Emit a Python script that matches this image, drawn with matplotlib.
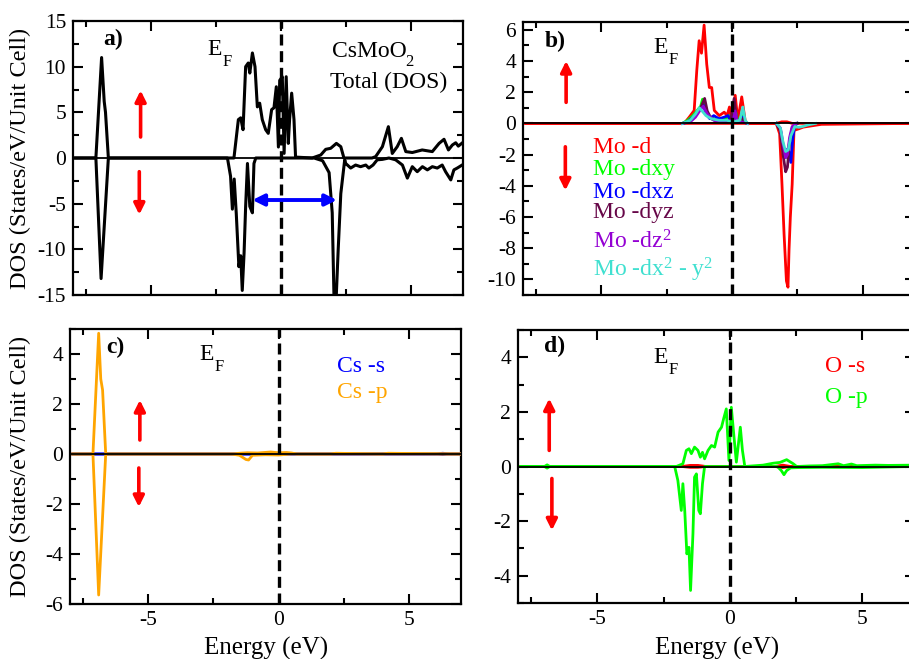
import matplotlib
matplotlib.use("Agg")
import matplotlib.pyplot as plt
from matplotlib.ticker import MultipleLocator

plt.rcParams['font.family'] = ['Liberation Serif', 'DejaVu Serif']
plt.rcParams['mathtext.fontset'] = 'custom'
plt.rcParams['mathtext.rm'] = 'Liberation Serif'
plt.rcParams['mathtext.it'] = 'Liberation Serif:italic'
plt.rcParams['mathtext.bf'] = 'Liberation Serif:bold'
plt.rcParams['axes.unicode_minus'] = False

# ---------------- data ----------------
# Panel a: total DOS
tot_up_E = [-7.9, -7.12, -6.9, -6.8, -6.75, -6.64, -1.81, -1.64, -1.55, -1.46, -1.36, -1.26, -1.2, -1.10,
            -1.0, -0.91, -0.82, -0.72, -0.59, -0.49, -0.36, -0.27, -0.18, -0.10, -0.05, 0.05, 0.12, 0.2,
            0.28, 0.33, 0.41, 0.5, 0.56, 1.2, 1.53, 1.72, 1.91, 2.13, 2.3, 2.42, 3.5, 3.64, 3.9, 4.13,
            4.28, 4.47, 4.63, 4.8, 5.05, 5.43, 5.82, 6.08, 6.27, 6.44, 6.59, 6.72, 6.82, 6.95]
tot_up = [0, 0, 11.0, 6.2, 5.0, 0, 0, 4.2, 4.4, 3.1, 10.0, 10.4, 9.3, 11.5,
          10.0, 5.6, 6.0, 4.2, 3.1, 2.7, 5.3, 5.5, 7.8, 1.2, 8.5, 8.9, 0.5, 8.9,
          1.6, 4.2, 7.1, 4.2, 0.1, 0, 0.33, 0.95, 1.06, 1.6, 1.24, 0, 0, 0.15, 1.24, 3.43,
          0.5, 1.24, 2.15, 0.7, 0.6, 0.88, 0.7, 1.6, 2.05, 0.88, 1.42, 1.67, 1.3, 1.6]
tot_dn_E = [-7.9, -7.12, -6.92, -6.64, -2.06, -1.94, -1.87, -1.8, -1.72, -1.62, -1.55, -1.49, -1.42,
            -1.36, -1.29, -1.2, -1.1, -1.04, -0.97, 1.27, 1.6, 1.85, 1.97, 2.04, 2.12, 2.2, 2.3, 2.45,
            2.49, 2.68, 2.87, 3.06, 3.26, 3.38, 3.54, 3.7, 3.9, 4.15, 4.41, 4.67, 4.86, 5.05, 5.24,
            5.44, 5.63, 5.82, 6.01, 6.2, 6.33, 6.53, 6.65, 6.78, 6.95]
tot_dn = [0, 0, -13.2, 0, 0, -2.0, -5.6, -2.3, -6.1, -11.9, -10.7, -14.5, -10.4,
          -5.3, -0.6, -5.3, -6.0, -0.6, 0, 0, -0.3, -1.6, -6.0, -15.5, -15.5, -10, -3.9, -0.2,
          -0.6, -1.1, -0.77, -0.95, -0.77, -1.1, -0.77, -0.2, -0.15, 0, -0.2, -0.77, -2.2, -0.95, -1.5,
          -0.95, -1.3, -0.95, -1.1, -0.77, -1.5, -2.4, -1.3, -1.1, -0.8]

# Panel b: Mo d orbitals
mo_d_up_E = [-7.9, -1.83, -1.64, -1.45, -1.35, -1.26, -1.17, -1.07, -0.97, -0.87, -0.78, -0.68, -0.49,
             -0.3, -0.19, -0.1, -0.04, 0.12, 0.22, 0.37, 0.5, 0.56, 1.7, 1.9, 2.1, 2.3, 6.95]
mo_d_up = [0, 0, 0.4, 0.83, 3.4, 5.3, 4.5, 6.3, 3.8, 2.3, 2.3, 0.83, 0.5,
           0.72, 0.5, 1.05, 0.2, 1.8, 0.2, 1.7, 0.2, 0, 0, 0.1, 0.1, 0, 0]
mo_d_dn_E = [-7.9, 1.69, 1.82, 1.91, 1.99, 2.08, 2.14, 2.18, 2.23, 2.3, 2.37, 2.55, 2.72, 3.42, 6.95]
mo_d_dn = [0, 0, -0.66, -3.9, -7.1, -10.1, -10.5, -8.1, -6.0, -3.9, -0.45, -0.35, -0.24, -0.06, 0]

mo_dxy_up_E = [-1.9, -1.7, -1.5, -1.35, -1.2, -1.13, -1.0, -0.9, -0.7, -0.5, -0.3, -0.1, 0.0, 0.12, 0.22, 0.4, 0.5, 0.6]
mo_dxy_up = [0, 0.2, 0.5, 0.8, 1.1, 1.55, 0.9, 0.5, 0.3, 0.2, 0.25, 0.5, 0.1, 0.9, 0.1, 0.6, 0.05, 0]
mo_dxy_dn_E = [1.7, 1.85, 1.95, 2.05, 2.12, 2.2, 2.3, 2.4, 2.5]
mo_dxy_dn = [0, -0.4, -1.5, -2.2, -2.0, -1.2, -0.3, -0.1, 0]

mo_dxz_up_E = [-1.9, -1.7, -1.5, -1.35, -1.2, -1.1, -1.0, -0.85, -0.7, -0.5, -0.3, -0.15, -0.05, 0.1, 0.2, 0.4, 0.5, 0.6]
mo_dxz_up = [0, 0.1, 0.4, 0.6, 1.0, 1.2, 0.6, 0.3, 0.5, 0.3, 0.4, 0.5, 0.1, 0.6, 0.1, 0.4, 0.05, 0]
mo_dxz_dn_E = [1.7, 1.85, 1.95, 2.05, 2.15, 2.25, 2.32, 2.4, 2.5]
mo_dxz_dn = [0, -0.4, -1.5, -1.8, -1.6, -2.5, -1.0, -0.1, 0]

mo_dyz_up_E = [-1.9, -1.7, -1.5, -1.35, -1.2, -1.05, -0.95, -0.8, -0.6, -0.4, -0.2, -0.05, 0.08, 0.18, 0.4, 0.5, 0.6]
mo_dyz_up = [0, 0.1, 0.3, 0.7, 1.0, 1.6, 0.8, 0.3, 0.15, 0.1, 0.1, 0.2, 1.6, 0.1, 0.3, 0.05, 0]
mo_dyz_dn_E = [1.7, 1.85, 1.95, 2.05, 2.12, 2.2, 2.3, 2.4, 2.5]
mo_dyz_dn = [0, -0.5, -2.0, -3.1, -2.8, -1.2, -0.3, -0.1, 0]

mo_dz2_up_E = [-1.9, -1.6, -1.4, -1.2, -1.1, -0.95, -0.7, -0.4, -0.1, 0.05, 0.12, 0.2, 0.5, 0.6]
mo_dz2_up = [0, 0.1, 0.4, 0.9, 1.1, 0.6, 0.2, 0.1, 0.15, 0.2, 0.8, 0.1, 0.05, 0]
mo_dz2_dn_E = [1.7, 1.85, 1.95, 2.05, 2.12, 2.2, 2.3, 2.45]
mo_dz2_dn = [0, -0.3, -1.3, -2.2, -2.0, -0.9, -0.2, 0]

mo_dx2y2_up_E = [-1.9, -1.6, -1.4, -1.25, -1.15, -1.0, -0.8, -0.5, -0.2, 0.0, 0.3, 0.41, 0.5, 0.6]
mo_dx2y2_up = [0, 0.2, 0.6, 1.0, 0.8, 0.5, 0.3, 0.2, 0.2, 0.1, 0.2, 1.05, 0.2, 0]
mo_dx2y2_dn_E = [1.7, 1.85, 1.95, 2.05, 2.15, 2.25, 2.4, 2.55, 2.7, 2.9, 3.2]
mo_dx2y2_dn = [0, -0.3, -1.2, -1.8, -1.7, -0.8, -0.2, -0.25, -0.2, -0.1, 0]

# Panel c: Cs
cs_s_up_E = [-7.9, 6.0, 6.3, 6.6, 6.95]
cs_s_up = [0, 0, 0.03, 0, 0]
cs_s_dn_E = [-7.9, 6.0, 6.3, 6.6, 6.95]
cs_s_dn = [0, 0, -0.02, 0, 0]
cs_p_up_E = [-7.9, -7.12, -6.9, -6.82, -6.75, -6.63, -1.8, -1.5, -1.2, -0.8, -0.3, 0.0, 0.3, 0.5, 0.7,
             2.0, 2.2, 4.0, 4.2, 6.95]
cs_p_up = [0, 0, 4.83, 3.0, 2.56, 0, 0, 0.03, 0.05, 0.04, 0.08, 0.05, 0.06, 0.04, 0,
           0, 0.03, 0, 0.03, 0]
cs_p_dn_E = [-7.9, -7.12, -6.9, -6.63, -1.8, -1.5, -1.25, -1.15, -1.0, -0.5, 0.0, 0.5, 6.95]
cs_p_dn = [0, 0, -5.64, 0, 0, -0.05, -0.22, -0.24, -0.05, -0.03, -0.04, 0, 0]

# Panel d: O
o_s_up_E = [-7.9, -1.8, -1.5, -1.2, -0.9, 1.7, 2.0, 2.3, 6.95]
o_s_up = [0, 0, 0.04, 0.04, 0, 0, 0.05, 0, 0]
o_s_dn_E = [-7.9, -1.8, -1.5, -1.2, -0.9, 1.7, 2.0, 2.3, 6.95]
o_s_dn = [0, 0, -0.03, -0.03, 0, 0, -0.04, 0, 0]
o_p_up_E = [-7.9, -7.0, -6.9, -6.8, -2.02, -1.77, -1.64, -1.54, -1.45, -1.33, -1.2, -1.11, -1.03, -0.95,
            -0.82, -0.69, -0.57, -0.44, -0.31, -0.23, -0.13, -0.03, 0.06, 0.15, 0.25, 0.4, 0.48, 0.57,
            1.26, 1.64, 1.9, 2.15, 2.4, 2.53, 3.0, 3.5, 4.1, 4.3, 4.6, 4.8, 5.5, 6.0, 6.95]
o_p_up = [0, 0, 0.06, 0, 0, 0.1, 0.59, 0.65, 0.47, 0.71, 0.59, 0.34, 0.52, 0.28,
          0.59, 0.77, 0.71, 1.26, 1.44, 1.75, 2.11, 0.22, 2.17, 1.2, 0.16, 1.44, 0.59, 0,
          0.05, 0.12, 0.15, 0.25, 0.1, 0.0, 0.02, 0.03, 0.1, 0.03, 0.09, 0.03, 0.05, 0.04, 0.05]
o_p_dn_E = [-7.9, -7.0, -6.9, -6.8, -2.08, -1.96, -1.83, -1.77, -1.7, -1.62, -1.54, -1.48, -1.39, -1.33,
            -1.26, -1.17, -1.11, -1.03, -0.95, 1.8, 1.95, 2.05, 2.15, 2.3, 2.6, 3.5, 5.0, 6.95]
o_p_dn = [0, 0, -0.06, 0, 0, -0.51, -1.61, -0.63, -1.61, -3.2, -2.96, -4.54, -2.47, -0.39,
          -0.27, -1.61, -1.73, -0.63, 0, 0, -0.15, -0.3, -0.15, -0.05, -0.04, -0.03, -0.04, 0]

# colours (xmgrace palette)
RED, GREEN, BLUE = '#ff0000', '#00ff00', '#0000ff'
MAROON, VIOLET, TURQ, ORANGE = '#670748', '#9400d3', '#40e0d0', '#ffa500'

W, H = 909, 659
fig = plt.figure(figsize=(W / 100, H / 100), dpi=100)


def ax_px(x0, x1, y0, y1):
    return fig.add_axes([x0 / W, 1 - y1 / H, (x1 - x0) / W, (y1 - y0) / H])


axa = ax_px(73, 463, 21, 295)
axb = ax_px(523, 915, 22, 295)
axc = ax_px(70, 461, 329, 604)
axd = ax_px(518, 915, 330, 603)

for ax in (axa, axb, axc, axd):
    ax.set_xlim(-8, 7)
    ax.xaxis.set_major_locator(MultipleLocator(5))
    ax.xaxis.set_minor_locator(MultipleLocator(2.5))
    ax.tick_params(which='both', direction='in', top=True, right=True, width=1.5, labelsize=15.5, pad=5)
    ax.tick_params(which='major', length=7.5)
    ax.tick_params(which='minor', length=4.5)
    for s in ax.spines.values():
        s.set_linewidth(1.6)
    ax.axvline(0, color='black', lw=2.4, ls=(0, (3.3, 1.7)), zorder=5)

axa.tick_params(labelbottom=False)
axb.tick_params(labelbottom=False)

axa.set_ylim(-15, 15)
axa.yaxis.set_major_locator(MultipleLocator(5))
axa.yaxis.set_minor_locator(MultipleLocator(2.5))
axb.set_ylim(-11, 6.5)
axb.yaxis.set_major_locator(MultipleLocator(2))
axb.yaxis.set_minor_locator(MultipleLocator(1))
axc.set_ylim(-6, 5)
axc.yaxis.set_major_locator(MultipleLocator(2))
axc.yaxis.set_minor_locator(MultipleLocator(1))
axd.set_ylim(-5, 5)
axd.yaxis.set_major_locator(MultipleLocator(2))
axd.yaxis.set_minor_locator(MultipleLocator(1))

# panel a
axa.plot(tot_up_E, tot_up, color='black', lw=2.2, zorder=3)
axa.plot(tot_dn_E, tot_dn, color='black', lw=2.2, zorder=3)

# panel b
b_series = [
    (mo_d_up_E, mo_d_up, mo_d_dn_E, mo_d_dn, RED),
    (mo_dxy_up_E, mo_dxy_up, mo_dxy_dn_E, mo_dxy_dn, GREEN),
    (mo_dxz_up_E, mo_dxz_up, mo_dxz_dn_E, mo_dxz_dn, BLUE),
    (mo_dyz_up_E, mo_dyz_up, mo_dyz_dn_E, mo_dyz_dn, MAROON),
    (mo_dz2_up_E, mo_dz2_up, mo_dz2_dn_E, mo_dz2_dn, VIOLET),
    (mo_dx2y2_up_E, mo_dx2y2_up, mo_dx2y2_dn_E, mo_dx2y2_dn, TURQ),
]
for ue, u, de, d, c in b_series:
    axb.plot(ue, u, color=c, lw=2.0, zorder=3)
    axb.plot(de, d, color=c, lw=2.0, zorder=3)

# panel c
axc.plot(cs_s_up_E, cs_s_up, color=BLUE, lw=2.0, zorder=3)
axc.plot(cs_s_dn_E, cs_s_dn, color=BLUE, lw=2.0, zorder=3)
axc.plot(cs_p_up_E, cs_p_up, color=ORANGE, lw=2.0, zorder=3)
axc.plot(cs_p_dn_E, cs_p_dn, color=ORANGE, lw=2.0, zorder=3)

# panel d
axd.plot(o_s_up_E, o_s_up, color=RED, lw=2.0, zorder=3)
axd.plot(o_s_dn_E, o_s_dn, color=RED, lw=2.0, zorder=3)
axd.plot(o_p_up_E, o_p_up, color=GREEN, lw=2.0, zorder=3)
axd.plot(o_p_dn_E, o_p_dn, color=GREEN, lw=2.0, zorder=3)
for ax in (axa, axb, axc, axd):
    ax.axhline(0, color='black', lw=1.3, zorder=4)

# arrows
def spin_arrow(ax, x, y0, y1, color='red'):
    ax.annotate('', xy=(x, y1), xytext=(x, y0),
                arrowprops=dict(arrowstyle='-|>', color=color, lw=2.6, mutation_scale=16,
                                shrinkA=0, shrinkB=0), zorder=6)

spin_arrow(axa, -5.4, 2.3, 7.4)
spin_arrow(axa, -5.45, -1.5, -6.2)
spin_arrow(axb, -6.35, 1.35, 4.0)
spin_arrow(axb, -6.38, -1.5, -4.3)
spin_arrow(axc, -5.32, 0.56, 2.16)
spin_arrow(axc, -5.36, -0.56, -2.12)
spin_arrow(axd, -6.82, 0.59, 2.49)
spin_arrow(axd, -6.72, -0.44, -2.34)
axa.annotate('', xy=(2.15, -4.6), xytext=(-1.1, -4.6),
             arrowprops=dict(arrowstyle='<|-|>', color=BLUE, lw=2.8, mutation_scale=17,
                             shrinkA=0, shrinkB=0), zorder=6)

# texts
def t(ax, x, y, s, **kw):
    kw.setdefault('fontsize', 16.5)
    ax.text(x, y, s, transform=ax.transAxes, ha='left', va='baseline', **kw)


def ef(ax, x, y):
    # E with a deeply lowered subscript F, as in the original
    t(ax, x, y, 'E', fontsize=17)
    t(ax, x + 0.039, y - 0.04, 'F', fontsize=12)

t(axa, 0.077, 0.912, 'a)', fontweight='bold', fontsize=17)
ef(axa, 0.344, 0.876)
t(axa, 0.664, 0.869, 'CsMoO', fontsize=17)
t(axa, 0.852, 0.835, '2', fontsize=12)
t(axa, 0.659, 0.755, 'Total (DOS)', fontsize=17)

t(axb, 0.056, 0.908, 'b)', fontweight='bold', fontsize=17)
ef(axb, 0.332, 0.886)
b_labels = ['Mo -d', 'Mo -dxy', 'Mo -dxz', 'Mo -dyz', r'Mo -dz$^2$', r'Mo -dx$^2$ - y$^2$']
b_label_y = [0.520, 0.440, 0.355, 0.282, 0.172, 0.066]
for lab, yy, (_, _, _, _, c) in zip(b_labels, b_label_y, b_series):
    t(axb, 0.179, yy, lab, color=c, fontsize=17)

t(axc, 0.092, 0.913, 'c)', fontweight='bold', fontsize=17)
ef(axc, 0.33, 0.887)
t(axc, 0.683, 0.844, 'Cs -s', color=BLUE, fontsize=17)
t(axc, 0.683, 0.749, 'Cs -p', color=ORANGE, fontsize=17)

t(axd, 0.065, 0.919, 'd)', fontweight='bold', fontsize=17)
ef(axd, 0.34, 0.879)
t(axd, 0.773, 0.846, 'O -s', color=RED, fontsize=17)
t(axd, 0.773, 0.733, 'O -p', color=GREEN, fontsize=17)

# axis labels
fig.text(20 / W, 1 - 158 / H, 'DOS (States/eV/Unit Cell)', rotation=90, ha='center', va='center', fontsize=17.5)
fig.text(20 / W, 1 - 466 / H, 'DOS (States/eV/Unit Cell)', rotation=90, ha='center', va='center', fontsize=17.5)
fig.text(266 / W, 1 - 655 / H, 'Energy (eV)', ha='center', va='baseline', fontsize=18)
fig.text(717 / W, 1 - 655 / H, 'Energy (eV)', ha='center', va='baseline', fontsize=18)

fig.savefig('out.png', dpi=100)
